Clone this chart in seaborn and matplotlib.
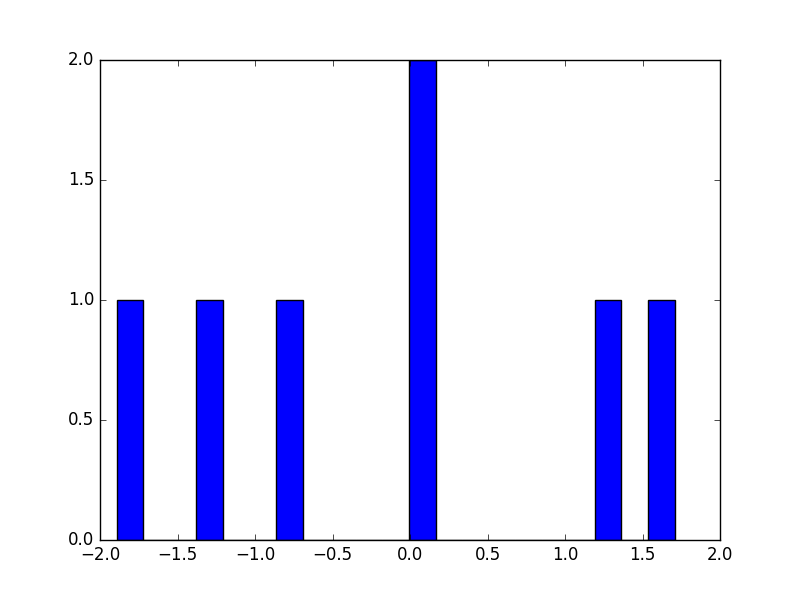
import matplotlib
matplotlib.use("Agg")
import matplotlib.pyplot as plt
import seaborn as sns
import numpy as np

values = [-1.89, -1.30, -0.78, 0.05, 0.10, 1.28, 1.706]
bin_count = 21
bin_range = (-1.8915, 1.7069)
x_ticks = [-2.0, -1.5, -1.0, -0.5, 0.0, 0.5, 1.0, 1.5, 2.0]
y_ticks = [0.0, 0.5, 1.0, 1.5, 2.0]

plt.style.use("classic")
fig = plt.figure(figsize=(8, 6), dpi=100)
ax = fig.add_axes([0.125, 0.1, 0.775, 0.8])
sns.histplot(x=values, bins=bin_count, binrange=bin_range, color="blue",
             edgecolor="black", linewidth=1, alpha=1, ax=ax)
ax.set_xlim(-2, 2)
ax.set_ylim(0, 2)
ax.set_xticks(x_ticks)
ax.set_yticks(y_ticks)
ax.set_xticklabels([f"{t:.1f}".replace("-", "\u2212") for t in x_ticks])
ax.set_yticklabels([f"{t:.1f}" for t in y_ticks])
ax.set_xlabel("")
ax.set_ylabel("")
fig.savefig("out.png", dpi=100, facecolor="white")
